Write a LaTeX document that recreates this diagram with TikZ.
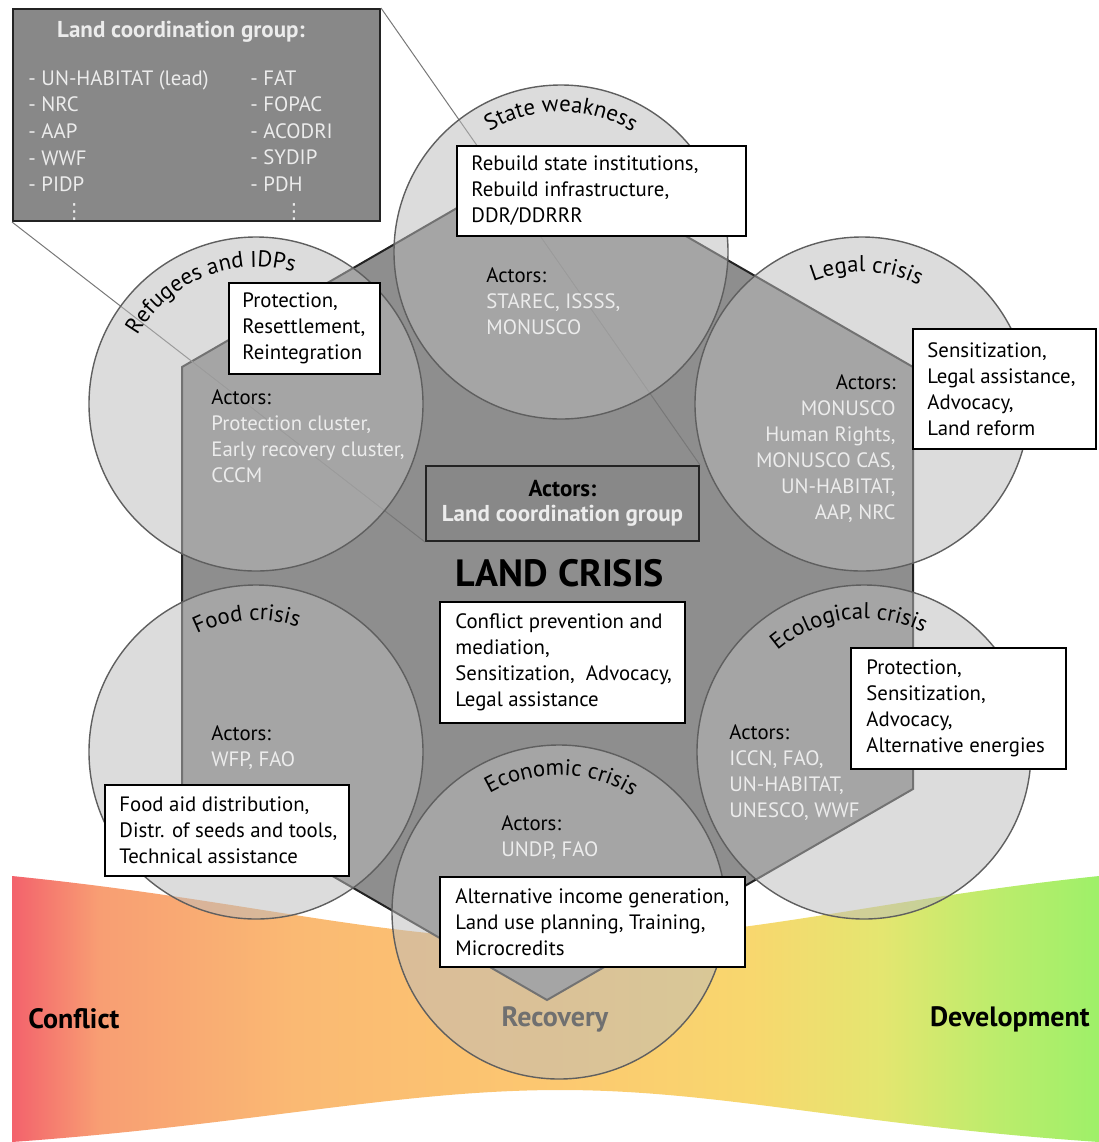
\documentclass[tikz,border=0pt]{standalone}
\usepackage{fontspec}
\setmainfont{PT Sans}
\newfontfamily\dotsfont{DejaVu Sans}
\usepackage{tikz}
\usetikzlibrary{shapes,arrows,positioning,decorations.text}

\definecolor{hexgray}{RGB}{142,142,142}
\definecolor{hexrim}{RGB}{35,35,35}
\definecolor{circlegray}{RGB}{188,188,188}
\definecolor{rimgray}{RGB}{95,95,95}
\definecolor{actorwhite}{RGB}{236,236,236}
\definecolor{lcggray}{RGB}{136,136,136}
\definecolor{calloutgray}{RGB}{120,120,120}
\definecolor{recoverygray}{RGB}{112,112,112}
% colours of the conflict -> development band
\definecolor{bandA}{RGB}{243,98,108}
\definecolor{bandB}{RGB}{248,158,115}
\definecolor{bandC}{RGB}{250,185,115}
\definecolor{bandD}{RGB}{252,200,112}
\definecolor{bandE}{RGB}{248,215,110}
\definecolor{bandF}{RGB}{228,230,112}
\definecolor{bandG}{RGB}{190,236,108}
\definecolor{bandH}{RGB}{158,240,105}
\pgfdeclarehorizontalshading{crisisband}{100bp}{color(0bp)=(bandA); color(25bp)=(bandA);
  color(29bp)=(bandB); color(38bp)=(bandC); color(50bp)=(bandD); color(59bp)=(bandE);
  color(65bp)=(bandF); color(70bp)=(bandG); color(75bp)=(bandH); color(100bp)=(bandH)}

\newcommand{\boxfont}{\fontsize{10.4}{13}\selectfont}
\newcommand{\arcfont}{\fontsize{11.4}{13}\selectfont}

\tikzstyle{land} = [fill=hexgray, draw=hexrim, line width=1pt]
\tikzstyle{crisis} = [circle, draw=rimgray, fill=circlegray, fill opacity=0.52,
    line width=0.7pt, minimum size=167pt, inner sep=0pt]
\tikzstyle{task} = [rectangle, draw, fill=white, line width=0.8pt,
    anchor=north west, inner sep=0pt]
\tikzstyle{tasktext} = [align=left, inner sep=0pt, font=\boxfont]
\tikzstyle{actors} = [align=left, inner sep=0pt, anchor=north west,
    text=actorwhite, font=\boxfont]
\tikzstyle{graybox} = [rectangle, draw=hexrim, fill=lcggray, line width=1pt,
    anchor=north west, inner sep=0pt]
\tikzstyle{callout} = [draw=calloutgray, line width=0.5pt]
\tikzstyle{stage} = [font=\fontsize{14}{17}\selectfont\bfseries, inner sep=0pt]
\tikzset{arclabel/.style={decorate, decoration={text along path,
    text align=center, text={|\arcfont|#1}}}}

\begin{document}
\begin{tikzpicture}[x=0.5pt, y=0.5pt]
\useasboundingbox (0,0) rectangle (1099,-1142);

    % Band from conflict to development
\shade[shading=crisisband] (12,-876) .. controls (250,-900) and (380,-940) .. (560,-940)
  .. controls (740,-940) and (870,-900) .. (1099,-876) -- (1099,-1142)
  .. controls (850,-1125) and (720,-1090) .. (560,-1090)
  .. controls (400,-1090) and (250,-1125) .. (12,-1142) -- cycle;

    % Land crisis hexagon
\draw[land] (547,-156) -- (913,-367) -- (913,-789) -- (547,-1000)
  -- (182,-789) -- (182,-367) -- cycle;

    % Coordination group boxes
\node[graybox, minimum width=183.5pt, minimum height=106pt] (lcg) at (12,-8) {};
\node[font=\fontsize{11.5}{13}\selectfont\bfseries, text=actorwhite] (lcgtitle) at (181,-32) {Land coordination group:};
\node[actors, font=\fontsize{10.4}{13.3}\selectfont] (lcgleft) at (28,-70)
  {- UN-HABITAT (lead)\\- NRC\\- AAP\\- WWF\\- PIDP\\\hspace*{1.7em}{\dotsfont ⋮}};
\node[actors, font=\fontsize{10.4}{13.3}\selectfont] (lcgright) at (250,-70)
  {- FAT\\- FOPAC\\- ACODRI\\- SYDIP\\- PDH\\\hspace*{1.6em}{\dotsfont ⋮}};
\node[graybox, minimum width=136.5pt, minimum height=37.5pt] (lcgactors) at (425,-465) {};
\node[align=center, font=\fontsize{11.5}{12.8}\selectfont\bfseries, inner sep=0pt] (lcgactorstext)
  at (lcgactors.center) {Actors:\\\textcolor{actorwhite}{Land coordination group}};

    % Draw edges
\path[callout] (lcg.north east) -- (lcgactors.north east);
\path[callout] (lcg.south west) -- (lcgactors.south west);

    % Crisis circles
\node[crisis] (state) at (561,-252) {};
\node[crisis] (refugees) at (256,-404) {};
\node[crisis] (legal) at (862,-404) {};
\node[crisis] (food) at (256,-752) {};
\node[crisis] (ecology) at (864,-752) {};
\node[crisis] (economy) at (559,-912) {};

\path[arclabel={State weakness}] ([shift={(160:140)}]state.center) arc[start angle=160, end angle=20, radius=140];
\path[arclabel={Refugees and IDPs}] ([shift={(182:137)}]refugees.center) arc[start angle=182, end angle=42, radius=137];
\path[arclabel={Legal crisis}] ([shift={(158:132)}]legal.center) arc[start angle=158, end angle=18, radius=132];
\path[arclabel={Food crisis}] ([shift={(164:132)}]food.center) arc[start angle=164, end angle=24, radius=132];
\path[arclabel={Ecological crisis}] ([shift={(167:133)}]ecology.center) arc[start angle=167, end angle=27, radius=133];
\path[arclabel={Economic crisis}] ([shift={(159:137)}]economy.center) arc[start angle=159, end angle=19, radius=137];

    % Actors
\node[actors] (stateactors) at (486,-267) {\textcolor{black}{Actors:}\\STAREC, ISSSS,\\MONUSCO};
\node[actors] (refugeeactors) at (211,-389) {\textcolor{black}{Actors:}\\Protection cluster,\\Early recovery cluster,\\CCCM};
\node[actors, align=right, anchor=north east] (legalactors) at (896,-374)
  {\textcolor{black}{Actors:}\\MONUSCO\\Human Rights,\\MONUSCO CAS,\\UN-HABITAT,\\AAP, NRC};
\node[actors] (foodactors) at (211,-725) {\textcolor{black}{Actors:}\\WFP, FAO};
\node[actors] (ecologyactors) at (729,-724) {\textcolor{black}{Actors:}\\ICCN, FAO,\\UN-HABITAT,\\UNESCO, WWF};
\node[actors] (economyactors) at (501,-815) {\textcolor{black}{Actors:}\\UNDP, FAO};

    % Place nodes
\node[task, minimum width=144.5pt, minimum height=45pt] (statebox) at (456,-145) {};
\node[tasktext, right=7.5pt of statebox.west] (statetasks)
  {Rebuild state institutions,\\Rebuild infrastructure,\\DDR/DDRRR};
\node[task, minimum width=75.5pt, minimum height=45.5pt] (refugeebox) at (228,-282) {};
\node[tasktext, right=7pt of refugeebox.west] (refugeetasks)
  {Protection,\\Resettlement,\\Reintegration};
\node[task, minimum width=91.5pt, minimum height=60pt] (legalbox) at (912,-328) {};
\node[tasktext, right=7.5pt of legalbox.west] (legaltasks)
  {Sensitization,\\Legal assistance,\\Advocacy,\\Land reform};
\node[stage, font=\fontsize{19}{22}\selectfont\bfseries] (landcrisis) at (560,-573) {LAND CRISIS};
\node[task, minimum width=122.5pt, minimum height=60.5pt] (landbox) at (439,-601) {};
\node[tasktext, right=8pt of landbox.west] (landtasks)
  {Conflict prevention and\\mediation,\\Sensitization,~ Advocacy,\\Legal assistance};
\node[task, minimum width=107.5pt, minimum height=60.5pt] (ecologybox) at (850,-647) {};
\node[tasktext, right=8pt of ecologybox.west] (ecologytasks)
  {Protection,\\Sensitization,\\Advocacy,\\Alternative energies};
\node[task, minimum width=122pt, minimum height=45.5pt] (foodbox) at (104,-784) {};
\node[tasktext, right=7.5pt of foodbox.west] (foodtasks)
  {Food aid distribution,\\Distr. of seeds and tools,\\Technical assistance};
\node[task, minimum width=152.5pt, minimum height=45pt] (economybox) at (439,-876) {};
\node[tasktext, right=8pt of economybox.west] (economytasks)
  {Alternative income generation,\\Land use planning, Training,\\Microcredits};

    % Stages
\node[stage, anchor=west] (conflict) at (28,-1019) {Conflict};
\node[stage, text=recoverygray] (recovery) at (555,-1019) {Recovery};
\node[stage, anchor=east] (development) at (1090,-1019) {Development};

\end{tikzpicture}
\end{document}
